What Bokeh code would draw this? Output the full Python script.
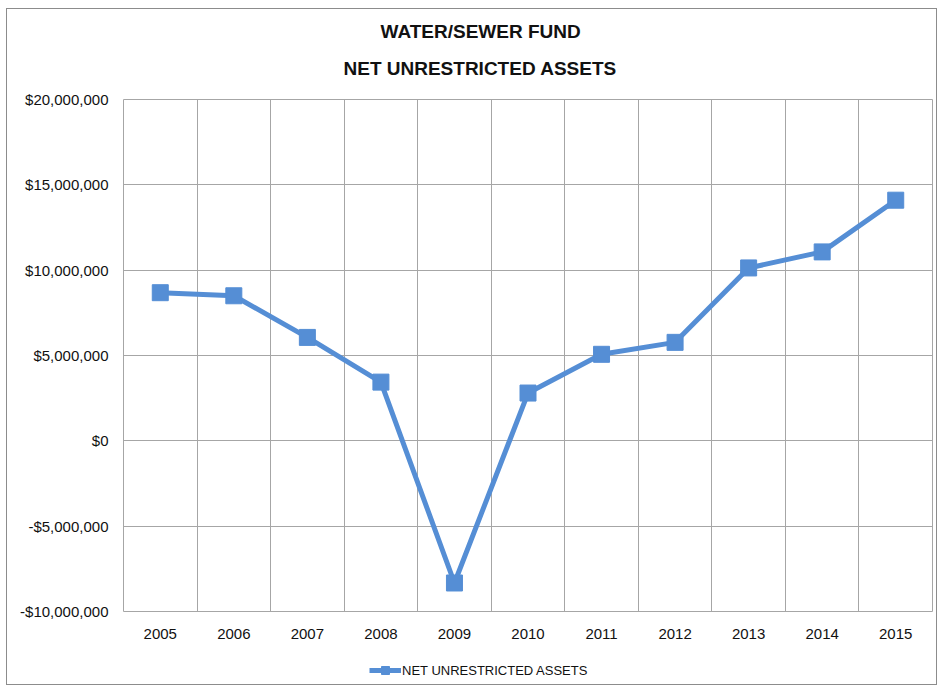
from bokeh.plotting import figure
from bokeh.layouts import column
from bokeh.models import FixedTicker, Grid, Legend, LegendItem, ColumnDataSource, Range1d, Title
from bokeh.embed import file_html
from bokeh.resources import INLINE

years = ["2005", "2006", "2007", "2008", "2009", "2010", "2011", "2012", "2013", "2014", "2015"]
assets = [8680000, 8500000, 6060000, 3440000, -8330000, 2800000, 5070000, 5770000, 10130000, 11070000, 14100000]
y_ticks = [-10000000, -5000000, 0, 5000000, 10000000, 15000000, 20000000]
title_lines = ["WATER/SEWER FUND", "NET UNRESTRICTED ASSETS"]
series_name = "NET UNRESTRICTED ASSETS"

FONT = "Liberation Sans"
BLUE = "#558ED5"
GRID = "#A6A6A6"
TXT = "#111111"
W = 929

xs = [i + 0.5 for i in range(len(years))]
src = ColumnDataSource(dict(x=xs, y=assets))

p = figure(width=W, height=632, output_backend="svg", toolbar_location=None,
           x_range=Range1d(0, len(years)), y_range=Range1d(y_ticks[0], y_ticks[-1]),
           min_border_left=116, min_border_right=4, min_border_top=90, min_border_bottom=10)

p.title.text = title_lines[0]
p.title.align = "left"
p.title.offset = 257
p.title.text_font = FONT
p.title.text_font_size = "19px"
p.title.text_font_style = "bold"
p.title.text_color = TXT
p.title.standoff = -13
t2 = Title(text=title_lines[1], align="left", offset=220, text_font=FONT, text_font_size="19px",
           text_font_style="bold", text_color=TXT, standoff=41)
p.add_layout(t2, "above")

p.outline_line_color = GRID
p.outline_line_width = 1

# axes
p.xaxis.ticker = FixedTicker(ticks=xs)
p.xaxis.major_label_overrides = {x: y for x, y in zip(xs, years)}
p.yaxis.ticker = FixedTicker(ticks=y_ticks)
p.yaxis.major_label_overrides = {t: ("-" if t < 0 else "") + "${:,}".format(abs(t)) for t in y_ticks}
for ax in (p.xaxis[0], p.yaxis[0]):
    ax.axis_line_color = None
    ax.major_tick_line_color = None
    ax.minor_tick_line_color = None
    ax.major_tick_out = 0
    ax.major_tick_in = 0
    ax.major_label_text_font = FONT
    ax.major_label_text_font_size = "15px"
    ax.major_label_text_color = TXT
p.yaxis.major_label_standoff = 15
p.xaxis.major_label_standoff = 17

p.xgrid.grid_line_color = None
p.ygrid.grid_line_color = GRID
p.ygrid.grid_line_width = 1
p.add_layout(Grid(dimension=0, ticker=FixedTicker(ticks=list(range(1, len(years)))),
                  grid_line_color=GRID, grid_line_width=1))

p.line("x", "y", source=src, line_color=BLUE, line_width=5)
p.scatter("x", "y", source=src, marker="square", size=16, fill_color=BLUE, line_color=BLUE)

# legend strip (its renderers sit outside its visible ranges; only the legend shows)
p2 = figure(width=W, height=43, output_backend="svg", toolbar_location=None,
            x_range=Range1d(-10, -9), y_range=Range1d(-10, -9), min_border=0)
p2.axis.visible = False
p2.grid.visible = False
p2.outline_line_color = None
lg_line = p2.line("x", "y", source=src, line_color=BLUE, line_width=5)
lg_pts = p2.scatter("x", "y", source=src, marker="square", size=11, fill_color=BLUE, line_color=BLUE)
legend = Legend(items=[LegendItem(label=series_name, renderers=[lg_line, lg_pts])],
                orientation="horizontal", location=(246, 4), border_line_color=None,
                background_fill_alpha=0,
                label_text_font=FONT, label_text_font_size="13px", label_text_color=TXT,
                glyph_width=32, label_standoff=1, margin=0, padding=2)
p2.add_layout(legend, "center")

layout = column(p, p2, spacing=0,
                styles={"border": "1px solid #8C8C8C", "margin-left": "6px", "margin-top": "8px"})

open("out.html", "w").write(file_html(layout, INLINE))
